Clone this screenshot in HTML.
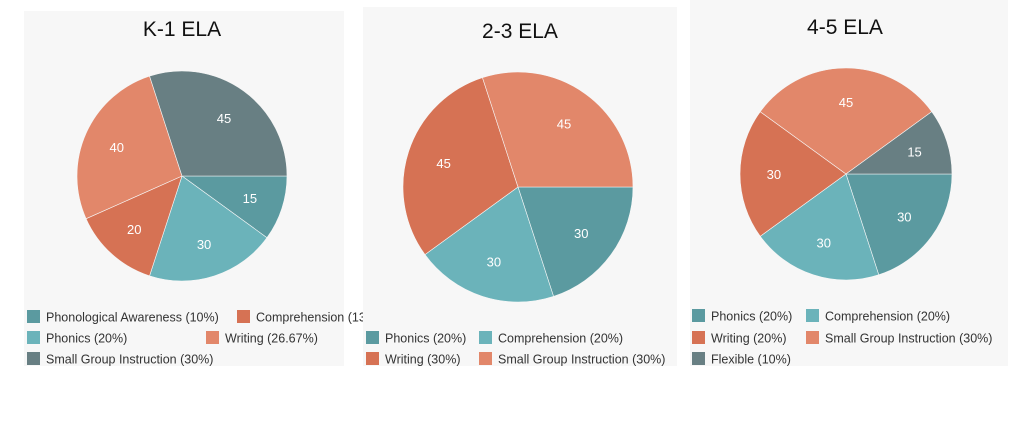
<!DOCTYPE html>
<html><head><meta charset="utf-8">
<style>
body{margin:0;background:#fff;width:1024px;height:422px;overflow:hidden;font-family:"Liberation Sans",sans-serif;}
svg{display:block}
</style></head>
<body>
<svg id="c" width="1024" height="422"></svg>
<script>
const k1Categories=["Phonological Awareness (10%)","Phonics (20%)","Comprehension (13.33%)","Writing (26.67%)","Small Group Instruction (30%)"];
const k1Values=[15,30,20,40,45];
const g23Categories=["Phonics (20%)","Comprehension (20%)","Writing (30%)","Small Group Instruction (30%)"];
const g23Values=[30,30,45,45];
const g45Categories=["Phonics (20%)","Comprehension (20%)","Writing (20%)","Small Group Instruction (30%)","Flexible (10%)"];
const g45Values=[30,30,30,45,15];

const NS="http://www.w3.org/2000/svg";
const svg=document.getElementById('c');
function el(t,a,p){const e=document.createElementNS(NS,t);for(const k in a)e.setAttribute(k,a[k]);(p||svg).appendChild(e);return e;}
const panels=[
 {title:"K-1 ELA",cats:k1Categories,vals:k1Values,colors:["#5b9aa0","#6bb3ba","#d67254","#e2876a","#687f83"],bx:24,by:11,bw:320,bh:355,tx:182,ty:36,cx:182,cy:176,r:105,lx:[27,187],ly:[317,338,359],layout:[[0,0],[1,1],[0,2],[1,3],[2,4]],lcol:[27,237],name:"k1"},
 {title:"2-3 ELA",cats:g23Categories,vals:g23Values,colors:["#5b9aa0","#6bb3ba","#d67254","#e2876a"],bx:363,by:7,bw:314,bh:359,tx:520,ty:38,cx:518,cy:187,r:115,ly:[317,338,359],layout:[[1,0],[1,1],[2,2],[2,3]],lcol:[366,479],name:"g23"},
 {title:"4-5 ELA",cats:g45Categories,vals:g45Values,colors:["#5b9aa0","#6bb3ba","#d67254","#e2876a","#687f83"],bx:690,by:0,bw:318,bh:366,tx:845,ty:34,cx:846,cy:174,r:106,ly:[316,338,359],layout:[[0,0],[0,1],[1,2],[1,3],[2,4]],lcol:[692,806],name:"g45"}
];
panels.forEach(p=>{
 const g=el('g',{});
 
 
 const bg=el('rect',{x:p.bx,y:p.by,width:p.bw,height:p.bh,fill:'#f7f7f7'},g);
 
 
 const t=el('text',{x:p.tx,y:p.ty,'text-anchor':'middle','font-size':'21',fill:'#111'},g);
 t.textContent=p.title;
 
 
 const total=p.vals.reduce((a,b)=>a+b,0);
 let a=0;
 p.vals.forEach((v,i)=>{
  const a0=a/total*2*Math.PI, a1=(a+v)/total*2*Math.PI; a+=v;
  const x0=p.cx+p.r*Math.cos(a0),y0=p.cy+p.r*Math.sin(a0),x1=p.cx+p.r*Math.cos(a1),y1=p.cy+p.r*Math.sin(a1);
  const large=(a1-a0)>Math.PI?1:0;
  const s=el('path',{d:`M${p.cx},${p.cy}L${x0},${y0}A${p.r},${p.r} 0 ${large} 1 ${x1},${y1}Z`,fill:p.colors[i],stroke:'#f7f7f7','stroke-width':'0.6'},g);
  
  
  const m=(a0+a1)/2;
  const lb=el('text',{x:p.cx+0.68*p.r*Math.cos(m),y:p.cy+0.68*p.r*Math.sin(m)+5,'text-anchor':'middle','font-size':'13',fill:'#fff'},g);
  lb.textContent=v;
  
  
 });
 p.layout.forEach(([row,col],j)=>{
  const i=p.layout[j][1]===undefined?j:j;
  const x=p.lcol[col% 2===0?0:1]; 
 });
 // legend
 const rowsUsed={};
 p.layout.forEach(([row,idx])=>{
  rowsUsed[row]=(rowsUsed[row]||0);
  const colIdx=rowsUsed[row]; rowsUsed[row]++;
  let x=p.lcol[colIdx];
  if(p.name==='k1'&&colIdx===1) x=(row===0?237:206);
  const y=p.ly[row];
  const lg=el('g',{},g);
  
  
  el('rect',{x:x,y:y-7,width:13,height:13,fill:p.colors[idx]},lg);
  const lt=el('text',{x:x+19,y:y+4.5,'font-size':'12.5',fill:'#333'},lg);
  lt.textContent=p.cats[idx];
 });
});
</script>
</body></html>
